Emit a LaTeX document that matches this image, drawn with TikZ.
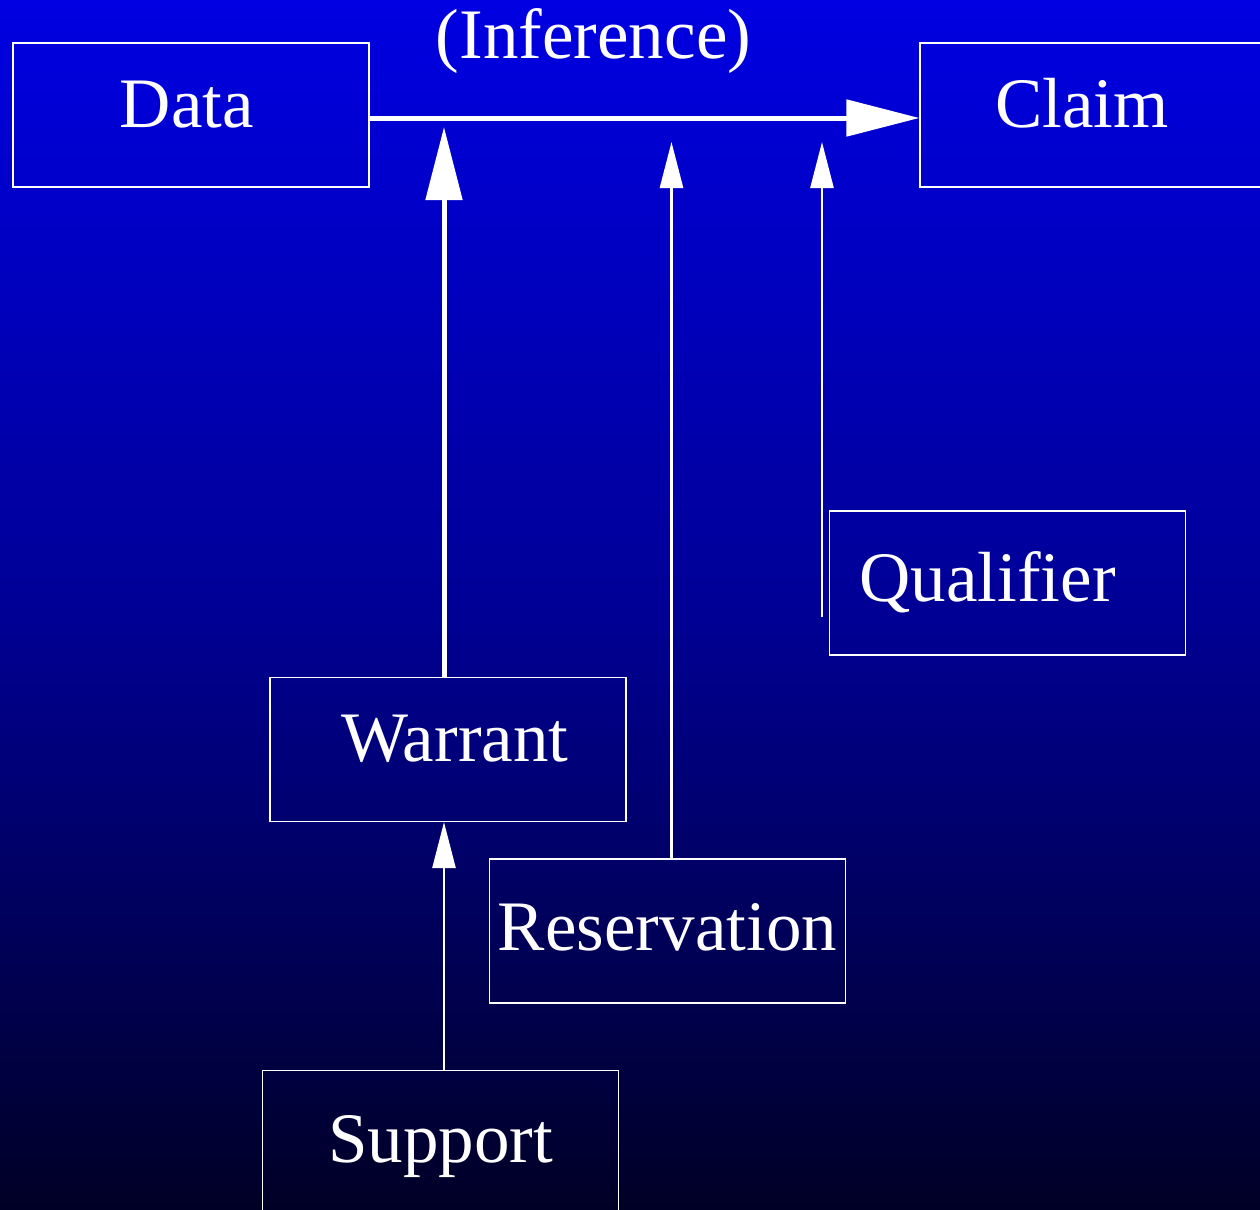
\documentclass[tikz,border=0pt]{standalone}
\usepackage{fontspec}
\setmainfont{Liberation Serif}
\usetikzlibrary{arrows.meta}
\definecolor{skytop}{HTML}{0000E2}
\definecolor{skymid}{HTML}{000096}
\definecolor{skybottom}{HTML}{000026}
\tikzset{
	fieldbox/.style={draw=white,line width=0.6pt,minimum width=178pt,minimum height=72pt,inner sep=0pt,
		text=white,font=\fontsize{35.5}{40}\selectfont,text height=25pt,text depth=#1},
	fieldbox/.default=13pt,
	mainflow/.style={draw=white,line width=2.5pt,-{Triangle[length=36.5pt,width=18pt]}},
	sideflow/.style={draw=white,line width=1.3pt,-{Triangle[length=23pt,width=11.5pt]}}
}
\begin{document}
\begin{tikzpicture}[x=0.5pt,y=-0.5pt]
	\clip (0,0) rectangle (1260,1210);
	\shade[top color=skytop,bottom color=skybottom,middle color=skymid] (0,0) rectangle (1260,1210);
	% the six parts
	\node[fieldbox] (data) at (191,115) {\hspace*{-4pt}Data};
	\node[fieldbox] (claim) at (1098,115) {\hspace*{-16pt}Claim};
	\node[fieldbox=6.5pt] (qualifier) at (1007.5,583) {\hspace*{-20pt}Qualifier};
	\node[fieldbox=12.8pt] (warrant) at (448,749.5) {\hspace*{7pt}Warrant};
	\node[fieldbox=6pt] (reservation) at (667.5,931) {Reservation};
	\node[fieldbox=5pt] (support) at (440.5,1142.5) {Support};
	\node[anchor=base,text=white,font=\fontsize{35.5}{40}\selectfont] (inference) at (593.5,58) {(Inference)};
	% ends of the upward arrows
	\coordinate (wtip) at (444,127);
	\coordinate (rtip) at (671.5,142);
	\coordinate (qtip) at (822,142);
	\coordinate (qfoot) at (822,617);
	\draw[mainflow] ([yshift=-1.5pt]data.east) -- ([yshift=-1.5pt]claim.west);
	\draw[mainflow] (warrant.north -| wtip) -- (wtip);
	\draw[sideflow] (reservation.north -| rtip) -- (rtip);
	\draw[sideflow] (qfoot) -- (qtip);
	\draw[sideflow] (support.north -| wtip) -- (warrant.south -| wtip);
\end{tikzpicture}
\end{document}
